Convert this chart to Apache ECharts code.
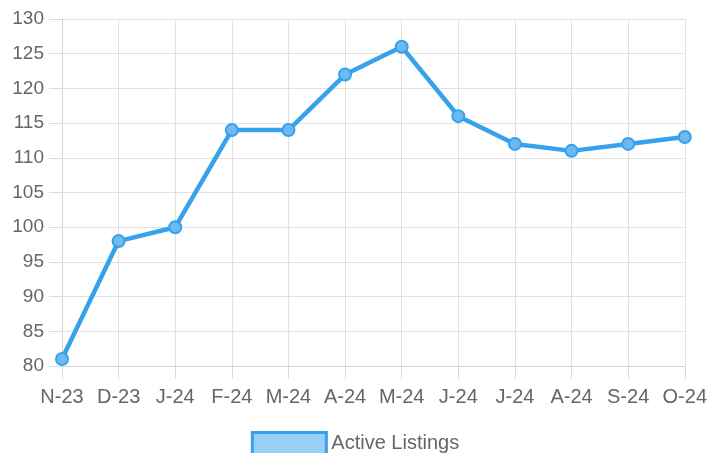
<!DOCTYPE html>
<html>
<head>
<meta charset="utf-8">
<script src="https://cdn.jsdelivr.net/npm/echarts@6/dist/echarts.min.js"></script>
<style>
  html, body { margin: 0; padding: 0; background: #fff; }
  #chart { width: 710px; height: 453px; }
</style>
</head>
<body>
<div id="chart"></div>
<script>
var categories = ['N-23', 'D-23', 'J-24', 'F-24', 'M-24', 'A-24', 'M-24', 'J-24', 'J-24', 'A-24', 'S-24', 'O-24'];
var activeListings = [81, 98, 100, 114, 114, 122, 126, 116, 112, 111, 112, 113];
var yMin = 80, yMax = 130, yStep = 5;

var gridColor = '#e2e2e2';
var tickColor = '#dadada';
var textColor = '#666';
var blue = '#36a2eb';

var chart = echarts.init(document.getElementById('chart'));
chart.setOption({
    animation: false,
    textStyle: { fontFamily: 'Liberation Sans, Arial, sans-serif' },
    grid: { left: 62, right: 25, top: 19, bottom: 87 },
    legend: {
        top: 426,
        left: 'center',
        itemWidth: 74,
        itemHeight: 22,
        itemGap: 8,
        data: [{
            name: 'Active Listings',
            icon: 'rect',
            itemStyle: { color: 'rgba(54,162,235,0.5)', borderColor: blue, borderWidth: 3 }
        }],
        textStyle: { color: textColor, fontSize: 20 }
    },
    xAxis: {
        type: 'category',
        boundaryGap: false,
        data: categories,
        axisLine: { lineStyle: { color: '#d4d4d4', width: 1 } },
        axisTick: { show: true, interval: 0, length: 13, lineStyle: { color: tickColor, width: 1 } },
        splitLine: { show: true, interval: 0, lineStyle: { color: gridColor } },
        axisLabel: { interval: 0, color: textColor, fontSize: 20, margin: 21 }
    },
    yAxis: {
        type: 'value',
        min: yMin,
        max: yMax,
        interval: yStep,
        axisLine: { show: true, lineStyle: { color: '#d4d4d4', width: 1 } },
        axisTick: { show: true, length: 13, lineStyle: { color: tickColor, width: 1 } },
        splitLine: { show: true, lineStyle: { color: gridColor } },
        axisLabel: { color: textColor, fontSize: 19, margin: 18 }
    },
    series: [{
        name: 'Active Listings',
        type: 'line',
        data: activeListings,
        symbol: 'circle',
        symbolSize: 12,
        lineStyle: { color: blue, width: 4.5, join: 'round' },
        itemStyle: { color: 'rgba(110,185,240,1)', borderColor: blue, borderWidth: 2 }
    }]
});
</script>
</body>
</html>
